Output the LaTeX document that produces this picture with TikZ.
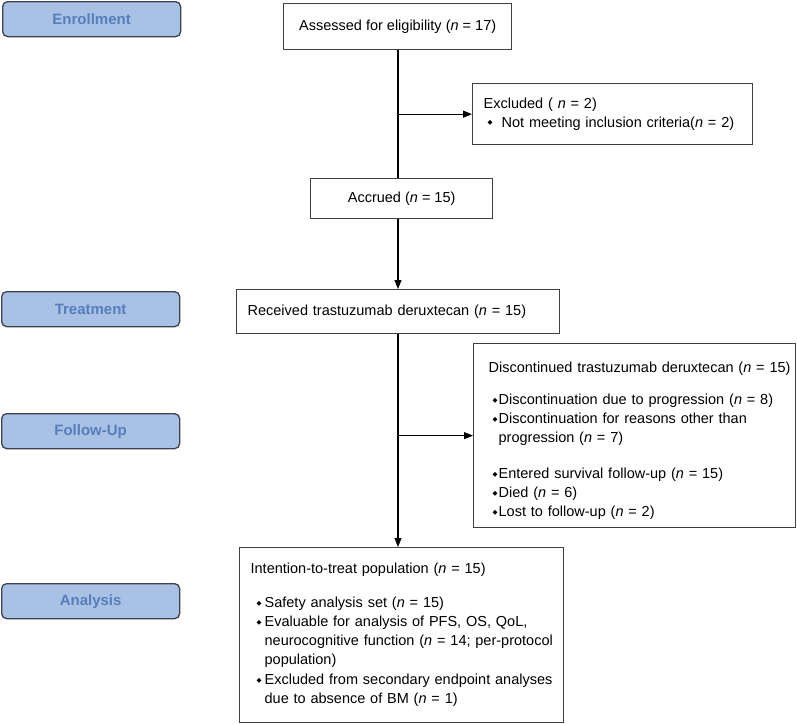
\documentclass[tikz,border=0pt]{standalone}
\usepackage{fontspec}
\setmainfont{Liberation Sans}
\newfontfamily\simbolos{DejaVu Sans}
\usetikzlibrary{arrows.meta}
\definecolor{etapafondo}{RGB}{169,193,229}
\definecolor{etapatexto}{RGB}{86,126,188}
\definecolor{etapaborde}{RGB}{60,66,78}
\definecolor{cajaborde}{RGB}{64,64,64}
\newcommand{\punto}[1]{\makebox[#1][l]{\raisebox{2.5pt}{\simbolos\fontsize{6.5}{6.5}\selectfont ◆}}}
\begin{document}
\begin{tikzpicture}[x=1pt,y=-1pt,
  font=\fontsize{14.5}{19}\selectfont,
  etapa/.style={draw=etapaborde, fill=etapafondo, line width=1.3pt, rounded corners=5pt,
    anchor=north west, minimum width=178pt, minimum height=35pt, text=etapatexto,
    font=\fontsize{15}{19}\selectfont\bfseries},
  caja/.style={draw=cajaborde, line width=1.3pt, anchor=north west, inner sep=0pt, align=left},
  linea/.style={line width=1.1pt},
  flecha/.style={line width=1.1pt, -{Triangle[length=9pt,width=7pt]}}]
            \useasboundingbox (0,0) rectangle (797,723);
            \node[etapa] (etapa1) at (2,1) {Enrollment};
            \node[etapa] (etapa2) at (1,291) {Treatment};
            \node[etapa] (etapa3) at (1,413) {Follow-Up};
            \node[etapa] (etapa4) at (1,583) {Analysis};
            \node[caja, minimum width=228pt, minimum height=46pt] (caja1) at (283,3)
                {Assessed for eligibility (\textit{n} = 17)};
            \node[caja, text width=280pt, minimum height=61pt] (caja2) at (472,83)
                {\leftskip=11pt Excluded ( \textit{n} = 2)\\
                 \hspace*{4pt}\punto{14pt}Not meeting inclusion criteria(\textit{n} = 2)\par};
            \node[caja, minimum width=182pt, minimum height=40pt] (caja3) at (310,178)
                {Accrued (\textit{n} = 15)};
            \node[caja, text width=323pt, minimum height=44pt] (caja4) at (236,289)
                {\leftskip=11pt Received trastuzumab deruxtecan (\textit{n} = 15)\par};
            \node[caja, text width=322pt, minimum height=184pt] (caja5) at (473,343)
                {\leftskip=15pt \rule{0pt}{21pt}Discontinued trastuzumab deruxtecan (\textit{n} = 15)\\[13pt]
                 \hspace*{4pt}\punto{6pt}Discontinuation due to progression (\textit{n} = 8)\\
                 \hspace*{4pt}\punto{6pt}Discontinuation for reasons other than\\
                 \hspace*{10pt}progression (\textit{n} = 7)\\[17pt]
                 \hspace*{4pt}\punto{6pt}Entered survival follow-up (\textit{n} = 15)\\
                 \hspace*{4pt}\punto{6pt}Died (\textit{n} = 6)\\
                 \hspace*{4pt}\punto{6pt}Lost to follow-up (\textit{n} = 2)\par};
            \node[caja, text width=324pt, minimum height=175pt] (caja6) at (239,547)
                {\leftskip=11pt Intention-to-treat population (\textit{n} = 15)\\[15pt]
                 \hspace*{6pt}\punto{8pt}Safety analysis set (\textit{n} = 15)\\
                 \hspace*{6pt}\punto{8pt}Evaluable for analysis of PFS, OS, QoL,\\
                 \hspace*{14pt}neurocognitive function (\textit{n} = 14; per-protocol\\
                 \hspace*{14pt}population)\\[1pt]
                 \hspace*{6pt}\punto{8pt}Excluded from secondary endpoint analyses\\
                 \hspace*{14pt}due to absence of BM (\textit{n} = 1)\par};
            \coordinate (tronco) at (398,0);
            \draw[linea] (caja1.south -| tronco) -- (caja3.north -| tronco);
            \draw[flecha] (caja2.west -| tronco) -- (caja2.west);
            \draw[flecha] (caja3.south -| tronco) -- (caja4.north -| tronco);
            \draw[flecha] (caja4.south -| tronco) -- (caja6.north -| tronco);
            \draw[flecha] (caja5.west -| tronco) -- (caja5.west);
        \end{tikzpicture}
\end{document}
